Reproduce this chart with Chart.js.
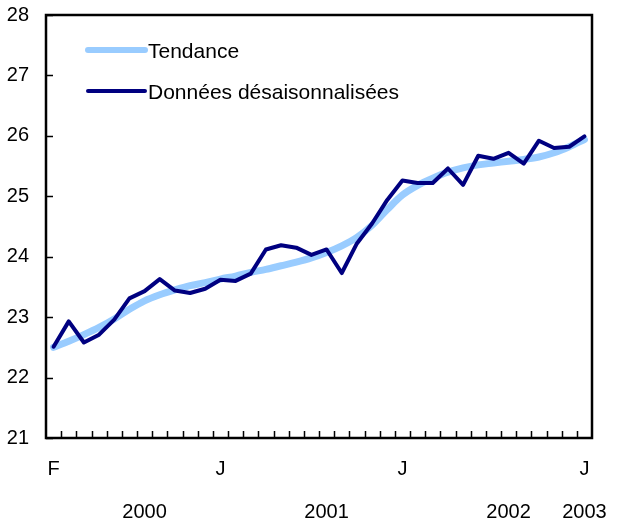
<!DOCTYPE html>
<html>
<head>
<meta charset="utf-8">
<script src="https://cdn.jsdelivr.net/npm/chart.js@4.4.1/dist/chart.umd.min.js"></script>
<style>
  html, body { margin: 0; padding: 0; background: #fff; }
  #wrap { width: 618px; height: 521px; position: relative; }
</style>
</head>
<body>
<div id="wrap"><canvas id="chart"></canvas></div>
<script>
// Feb 2000 .. Jan 2003, one point per month
const monthLabels = ['F', '', '', '', '', '', '', '', '', '', '', 'J',
    '', '', '', '', '', '', '', '', '', '', '', 'J',
    '', '', '', '', '', '', '', '', '', '', '', 'J'];
const yearLabels = ['', '', '', '', '', '', '2000', '', '', '', '', '',
    '', '', '', '', '', '', '2001', '', '', '', '', '',
    '', '', '', '', '', '', '2002', '', '', '', '', '2003'];

const trend = [22.50, 22.60, 22.71, 22.83, 22.97, 23.13, 23.27, 23.37, 23.45, 23.52, 23.57, 23.63,
    23.68, 23.74, 23.79, 23.85, 23.91, 23.98, 24.07, 24.18, 24.32, 24.52, 24.78, 25.02,
    25.18, 25.30, 25.40, 25.47, 25.52, 25.55, 25.58, 25.61, 25.65, 25.72, 25.82, 25.94];
const seasAdj = [22.51, 22.93, 22.58, 22.71, 22.96, 23.31, 23.43, 23.63, 23.44, 23.40, 23.47, 23.62,
    23.60, 23.72, 24.12, 24.19, 24.15, 24.03, 24.12, 23.73, 24.22, 24.55, 24.94, 25.26,
    25.22, 25.22, 25.46, 25.19, 25.67, 25.62, 25.72, 25.54, 25.92, 25.80, 25.82, 25.99];

const yTicks = [21, 22, 23, 24, 25, 26, 27, 28];

const FONT = 'Liberation Sans, Arial, sans-serif';

// frame + inward tick marks, legend drawn inside the plot
const framePlugin = {
    id: 'frame',
    beforeDatasetsDraw(chart) {
        const { ctx, chartArea: a, scales } = chart;
        ctx.save();
        ctx.strokeStyle = '#000';
        ctx.lineWidth = 1.5;
        const xs = scales.x;
        const w = (xs.getPixelForValue(1) - xs.getPixelForValue(0));
        ctx.beginPath();
        for (let i = 1; i < monthLabels.length; i++) {
            const px = Math.round(xs.getPixelForValue(i) - w / 2) + 0.5;
            ctx.moveTo(px, a.bottom);
            ctx.lineTo(px, a.bottom - 7);
        }
        for (const v of yTicks) {
            const py = Math.round(scales.y.getPixelForValue(v)) + 0.5;
            ctx.moveTo(a.left, py);
            ctx.lineTo(a.left + 7, py);
        }
        ctx.stroke();
        ctx.lineWidth = 2.5;
        ctx.strokeRect(a.left, a.top, a.right - a.left, a.bottom - a.top);
        ctx.restore();
    },
    afterDraw(chart) {
        const { ctx } = chart;
        const rowY = [50, 91];
        ctx.save();
        ctx.font = '21px ' + FONT;
        ctx.textBaseline = 'middle';
        ctx.fillStyle = '#000';
        chart.data.datasets.forEach((ds, i) => {
            const y = rowY[i];
            ctx.strokeStyle = ds.borderColor;
            ctx.lineWidth = i === 0 ? 6 : 4;
            ctx.lineCap = 'round';
            ctx.beginPath();
            ctx.moveTo(88, y);
            ctx.lineTo(145, y);
            ctx.stroke();
            ctx.fillText(ds.label, 148, y + 2);
        });
        ctx.restore();
    }
};

new Chart(document.getElementById('chart'), {
    type: 'line',
    data: {
        labels: monthLabels,
        datasets: [
            {
                label: 'Tendance',
                data: trend,
                order: 1,
                borderColor: '#99ccff',
                borderWidth: 7,
                pointRadius: 0,
                cubicInterpolationMode: 'monotone',
                borderCapStyle: 'round'
            },
            {
                label: 'Données désaisonnalisées',
                data: seasAdj,
                order: 0,
                borderColor: '#000080',
                borderWidth: 4,
                pointRadius: 0,
                tension: 0,
                borderJoinStyle: 'round',
                borderCapStyle: 'round'
            }
        ]
    },
    options: {
        responsive: true,
        maintainAspectRatio: false,
        animation: false,
        layout: { padding: { left: 0, right: 26, top: 15, bottom: 0 } },
        plugins: {
            legend: { display: false },
            tooltip: { enabled: false }
        },
        scales: {
            x: {
                offset: true,
                grid: { display: false, drawTicks: false },
                border: { display: false },
                afterFit(scale) {
                    scale.height = 83;
                    scale.paddingLeft = 0;
                    scale.paddingRight = 0;
                },
                ticks: {
                    autoSkip: false,
                    maxRotation: 0,
                    padding: 10,
                    color: '#000',
                    font: { family: FONT, size: 20, lineHeight: 2.15 },
                    callback: (v, i) => [monthLabels[i], yearLabels[i]]
                }
            },
            y: {
                min: 21,
                max: 28,
                grid: { display: false, drawTicks: false },
                border: { display: false },
                afterFit(scale) {
                    scale.width = 46;
                    scale.paddingTop = 0;
                    scale.paddingBottom = 0;
                },
                afterBuildTicks(scale) { scale.ticks = yTicks.map(v => ({ value: v })); },
                ticks: {
                    padding: 17,
                    color: '#000',
                    font: { family: FONT, size: 20 }
                }
            }
        }
    },
    plugins: [framePlugin]
});
</script>
</body>
</html>
